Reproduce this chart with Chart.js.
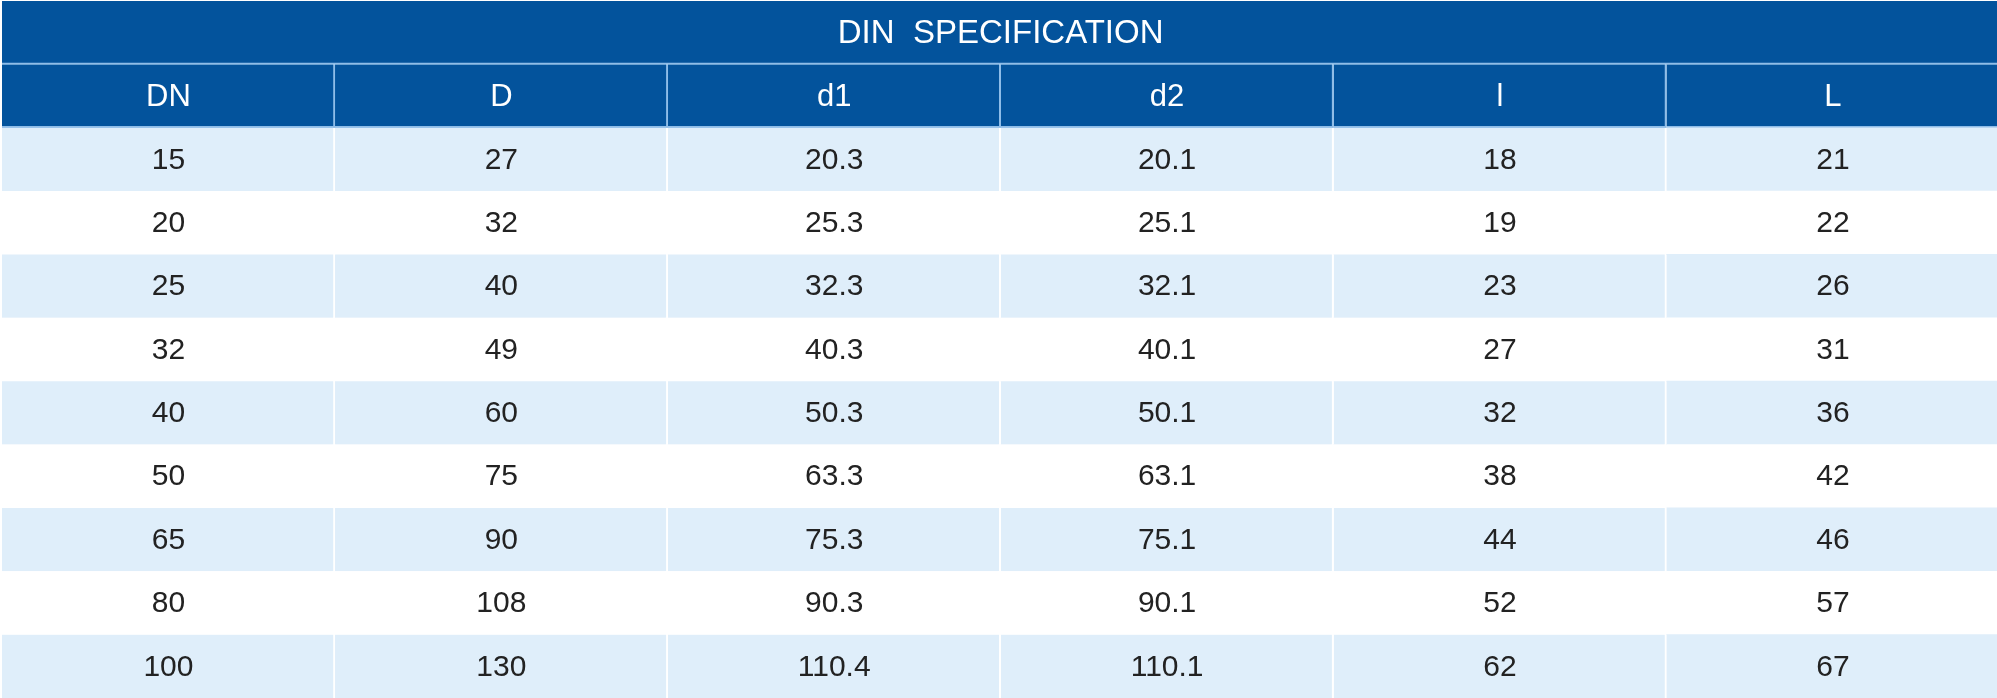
<!DOCTYPE html>
<html>
<head>
<meta charset="utf-8">
<script src="https://cdn.jsdelivr.net/npm/chart.js@4/dist/chart.umd.min.js"></script>
<style>
  html, body { margin: 0; padding: 0; background: #ffffff; }
  canvas { display: block; }
</style>
</head>
<body>
<canvas id="specChart" width="1997" height="698"></canvas>
<script>
// table content
const tableTitle = 'DIN  SPECIFICATION';
const columns = ['DN', 'D', 'd1', 'd2', 'l', 'L'];
const dnValues = [15, 20, 25, 32, 40, 50, 65, 80, 100];
const dValues = [27, 32, 40, 49, 60, 75, 90, 108, 130];
const d1Values = [20.3, 25.3, 32.3, 40.3, 50.3, 63.3, 75.3, 90.3, 110.4];
const d2Values = [20.1, 25.1, 32.1, 40.1, 50.1, 63.1, 75.1, 90.1, 110.1];
const lValues = [18, 19, 23, 27, 32, 38, 44, 52, 62];
const bigLValues = [21, 22, 26, 31, 36, 42, 46, 57, 67];

const columnValues = [dnValues, dValues, d1Values, d2Values, lValues, bigLValues];

// colours
const darkBlue = '#03539c';
const lineBlue = '#8fbde8';
const stripe = '#dfeefa';

// row keys for the category axis: title, header, then one per DN
const rowKeys = ['title', 'header'].concat(dnValues.map(v => 'DN' + v));

function rowFill(i) {
    if (i <= 1) return darkBlue;
    return (i - 2) % 2 === 0 ? stripe : '#ffffff';
}

// title band spans all six columns
const titleDataset = {
    data: rowKeys.map((k, i) => i === 0 ? [0, 6] : null),
    backgroundColor: darkBlue,
    borderColor: lineBlue,
    borderWidth: { top: 0, left: 0, right: 0, bottom: 2 },
    borderSkipped: false
};

// one dataset per column, a floating bar per row
const columnDatasets = columns.map((name, c) => ({
    label: name,
    data: rowKeys.map((k, i) => i === 0 ? null : [c, c + 1]),
    backgroundColor: ctx => rowFill(ctx.dataIndex),
    borderColor: ctx => ctx.dataIndex === 1 ? lineBlue : '#ffffff',
    borderWidth: ctx => ({
        top: 0,
        left: 0,
        right: c < columns.length - 1 ? 2 : 0,
        bottom: ctx.dataIndex === 1 ? 2 : 0
    }),
    borderSkipped: false
}));

// writes the cell texts at the scale positions
const cellText = {
    id: 'cellText',
    afterDatasetsDraw(chart) {
        const ctx = chart.ctx;
        const xs = chart.scales.x;
        const ys = chart.scales.y;
        ctx.save();
        ctx.textAlign = 'center';
        ctx.textBaseline = 'middle';

        ctx.fillStyle = '#ffffff';
        ctx.font = '33px "Liberation Sans", Arial, sans-serif';
        ctx.fillText(tableTitle, xs.getPixelForValue(3), ys.getPixelForValue(0) + 1);

        ctx.font = '31px "Liberation Sans", Arial, sans-serif';
        columns.forEach((name, c) => {
            ctx.fillText(name, xs.getPixelForValue(c + 0.5), ys.getPixelForValue(1) + 1);
        });

        ctx.fillStyle = '#222222';
        ctx.font = '30px "Liberation Sans", Arial, sans-serif';
        columnValues.forEach((vals, c) => {
            vals.forEach((v, r) => {
                ctx.fillText(String(v), xs.getPixelForValue(c + 0.5), ys.getPixelForValue(r + 2) + 1);
            });
        });
        ctx.restore();
    }
};

new Chart(document.getElementById('specChart'), {
    type: 'bar',
    data: {
        labels: rowKeys,
        datasets: [titleDataset].concat(columnDatasets)
    },
    options: {
        indexAxis: 'y',
        responsive: false,
        animation: false,
        grouped: false,
        barPercentage: 1,
        categoryPercentage: 1,
        layout: { padding: { left: 2, top: 1, right: 0, bottom: 0 } },
        plugins: {
            legend: { display: false },
            tooltip: { enabled: false }
        },
        scales: {
            x: { type: 'linear', min: 0, max: 5.993, display: false },
            y: { type: 'category', offset: true, display: false }
        }
    },
    plugins: [cellText]
});
</script>
</body>
</html>
